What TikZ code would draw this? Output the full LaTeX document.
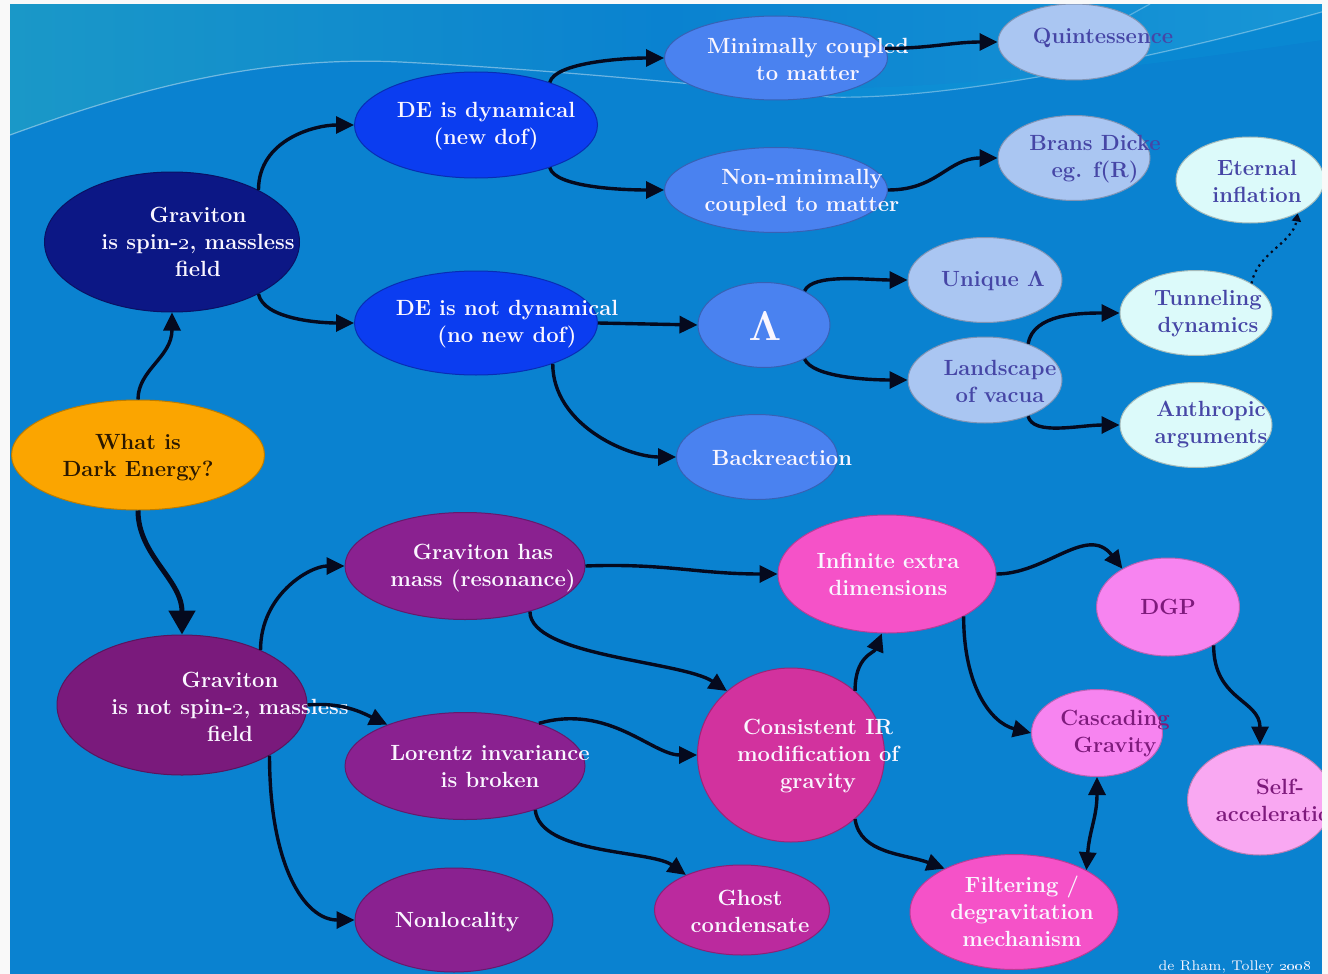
\documentclass[tikz,border=0pt]{standalone}
\usetikzlibrary{shapes.geometric,arrows.meta}
\definecolor{bgblue}{HTML}{0A82D0}
\definecolor{wavea}{HTML}{1A98C8}
\definecolor{waveb}{HTML}{1896D6}
\definecolor{cOrange}{HTML}{FBA500}
\definecolor{cNavy}{HTML}{0C1785}
\definecolor{cDE}{HTML}{0B3DF0}
\definecolor{cMed}{HTML}{4A82F0}
\definecolor{cLight}{HTML}{AAC6F2}
\definecolor{cPale}{HTML}{DCFAFA}
\definecolor{cPurpA}{HTML}{7A1A7C}
\definecolor{cPurpB}{HTML}{8A2190}
\definecolor{cGhost}{HTML}{BB2A9E}
\definecolor{cMag}{HTML}{D2329E}
\definecolor{cPink}{HTML}{F552C8}
\definecolor{cPinkL}{HTML}{F784F0}
\definecolor{cPinkP}{HTML}{F9A8F2}
\definecolor{tWhite}{HTML}{FAF6FF}
\definecolor{tBlue}{HTML}{4646A6}
\definecolor{tPurp}{HTML}{7E1A7C}
\definecolor{tDark}{HTML}{2A1800}
\definecolor{lineC}{HTML}{050A1E}
\tikzset{
  bub/.style n args={3}{ellipse, inner sep=0pt, minimum width={#1*0.5pt},
    minimum height={#2*0.5pt}, fill=#3, draw=#3!75!black, line width=0.5pt},
  txt/.style={align=center, inner sep=0pt,
    font=\fontsize{11}{13.5}\selectfont\bfseries, text=#1},
  arr/.style={-{Triangle[length=9pt,width=8.5pt]}, line width=1.7pt, draw=lineC},
  arrbig/.style={-{Triangle[length=12pt,width=13pt]}, line width=2.5pt, draw=lineC},
  darr/.style={{Triangle[length=9pt,width=8.5pt]}-{Triangle[length=9pt,width=8.5pt]},
    line width=1.7pt, draw=lineC},
  dotarr/.style={-{Triangle[length=4pt,width=4.5pt]}, dotted, line width=1.1pt, draw=lineC}
}
\begin{document}
\begin{tikzpicture}[x=0.5pt,y=-0.5pt]
\useasboundingbox (0,0) rectangle (1328,974);
% background
\fill[white] (0,0) rectangle (1328,974);
\fill[bgblue] (10,4) rectangle (1322,974);
\shade[left color=wavea, right color=waveb, middle color=bgblue]
  (10,4) -- (10,135) .. controls (120,95) and (250,55) .. (400,62)
  .. controls (560,70) and (700,85) .. (830,97)
  .. controls (950,100) and (1150,60) .. (1322,12) -- (1322,4) -- cycle;
\draw[white, opacity=0.4, line width=0.6pt]
  (10,135) .. controls (120,95) and (250,55) .. (400,62)
  .. controls (560,70) and (700,85) .. (830,97)
  .. controls (950,100) and (1150,60) .. (1322,12);
\draw[white, opacity=0.3, line width=0.6pt]
  (1020,70) .. controls (1080,45) and (1120,20) .. (1150,4);
\fill[bgblue!80!cyan, opacity=0.25]
  (660,80) .. controls (800,95) and (950,95) .. (1322,40) -- (1322,12)
  .. controls (1150,60) and (950,100) .. (830,97) .. controls (760,90) and (700,84) .. (660,80) -- cycle;

% ellipses
\node[bub={253}{110}{cOrange}] (wd) at (138,455) {};
\node[bub={255}{140}{cNavy}] (gs) at (172,242) {};
\node[bub={243}{106}{cDE}] (dyn) at (476,125) {};
\node[bub={243}{104}{cDE}] (dnd) at (476,323) {};
\node[bub={223}{84}{cMed}] (mc) at (776,58) {};
\node[bub={223}{85}{cMed}] (nm) at (776,190) {};
\node[bub={152}{76}{cLight}] (q) at (1074,42) {};
\node[bub={152}{85}{cLight}] (bd) at (1074,158) {};
\node[bub={148}{86}{cPale}] (et) at (1250,180) {};
\node[bub={132}{85}{cMed}] (lam) at (764,325) {};
\node[bub={161}{85}{cMed}] (bk) at (757,457) {};
\node[bub={154}{85}{cLight}] (ua) at (985,280) {};
\node[bub={154}{86}{cLight}] (ls) at (985,380) {};
\node[bub={152}{85}{cPale}] (tu) at (1196,313) {};
\node[bub={152}{85}{cPale}] (an) at (1196,425) {};
\node[bub={250}{140}{cPurpA}] (gns) at (182,705) {};
\node[bub={240}{107}{cPurpB}] (gm) at (465,566) {};
\node[bub={240}{107}{cPurpB}] (lor) at (465,766) {};
\node[bub={198}{104}{cPurpB}] (nl) at (454,920) {};
\node[bub={175}{90}{cGhost}] (gh) at (742,910) {};
\node[bub={187}{174}{cMag}] (ci) at (791,755) {};
\node[bub={218}{118}{cPink}] (ie) at (887,574) {};
\node[bub={143}{98}{cPinkL}] (dgp) at (1168,607) {};
\node[bub={131}{87}{cPinkL}] (cg) at (1097,733) {};
\node[bub={145}{110}{cPinkP}] (sa) at (1260,800) {};
\node[bub={208}{115}{cPink}] (fi) at (1014,912) {};

% texts
\node[txt=tDark] (wd-t) at (138,458) {What is\\Dark Energy?};
\node[txt=tWhite] (gs-t) at (198,242) {Graviton\\is spin-\oldstylenums{2}, massless\\field};
\node[txt=tWhite] (dyn-t) at (486,126) {DE is dynamical\\(new dof)};
\node[txt=tWhite] (dnd-t) at (507,324) {DE is not dynamical\\(no new dof)};
\node[txt=tWhite] (mc-t) at (808,59) {Minimally coupled\\to matter};
\node[txt=tWhite] (nm-t) at (802,193) {Non-minimally\\coupled to matter};
\node[txt=tBlue] (q-t) at (1103,38) {Quintessence};
\node[txt=tBlue] (bd-t) at (1095,159) {Brans Dicke\\eg. f(R)};
\node[txt=tBlue] (et-t) at (1257,181) {Eternal\\inflation};
\node[txt=tWhite, font=\fontsize{22}{24}\selectfont] (lam-t) at (765,326) {$\mathbf{\Lambda}$};
\node[txt=tWhite] (bk-t) at (782,458) {Backreaction};
\node[txt=tBlue] (ua-t) at (993,281) {Unique $\mathbf{\Lambda}$};
\node[txt=tBlue] (ls-t) at (1000,381) {Landscape\\of vacua};
\node[txt=tBlue] (tu-t) at (1208,314) {Tunneling\\dynamics};
\node[txt=tBlue] (an-t) at (1211,425) {Anthropic\\arguments};
\node[txt=tWhite] (gns-t) at (230,707) {Graviton\\is not spin-\oldstylenums{2}, massless\\field};
\node[txt=tWhite] (gm-t) at (483,568) {Graviton has\\mass (resonance)};
\node[txt=tWhite] (lor-t) at (490,767) {Lorentz invariance\\is broken};
\node[txt=tWhite] (nl-t) at (457,922) {Nonlocality};
\node[txt=tWhite] (gh-t) at (750,911) {Ghost\\condensate};
\node[txt=tWhite] (ci-t) at (818,756) {Consistent IR\\modification of\\gravity};
\node[txt=tWhite] (ie-t) at (888,574) {Infinite extra\\dimensions};
\node[txt=tPurp] (dgp-t) at (1168,607) {DGP};
\node[txt=tPurp] (cg-t) at (1115,734) {Cascading\\Gravity};
\node[txt=tPurp] (sa-t) at (1280,800) {Self-\\acceleration};
\node[txt=tWhite] (fi-t) at (1022,911) {Filtering /\\degravitation\\mechanism};
\node[anchor=base, inner sep=0pt, text=tWhite, font=\fontsize{7}{8}\selectfont] (cr)
  at (1235,970) {de Rham, Tolley \oldstylenums{2008}};

% connectors
\draw[arr] (wd.north) .. controls +(0,-30) and +(0,45) .. (gs.south);
\draw[arrbig] (wd.south) .. controls +(0,45) and +(0,-55) .. (gns.north);
\draw[arr] (gs.31) .. controls +(0,-50) and +(-40,0) .. (dyn.west);
\draw[arr] (gs.-31) .. controls +(5,25) and +(-35,0) .. (dnd.west);
\draw[arr] (dyn.30) .. controls +(5,-20) and +(-40,0) .. (mc.west);
\draw[arr] (dyn.-30) .. controls +(5,20) and +(-40,0) .. (nm.west);
\draw[arr] (mc.5) .. controls +(45,0) and +(-45,0) .. (q.west);
\draw[arr] (nm.east) .. controls +(50,0) and +(-50,0) .. (bd.west);
\draw[arr] (dnd.east) -- (lam.west);
\draw[arr] (dnd.-28) .. controls +(0,60) and +(-50,0) .. (bk.west);
\draw[arr] (lam.40) .. controls +(8,-18) and +(-40,0) .. (ua.west);
\draw[arr] (lam.-40) .. controls +(8,18) and +(-40,0) .. (ls.west);
\draw[arr] (ls.40) .. controls +(5,-30) and +(-40,0) .. (tu.west);
\draw[arr] (ls.-40) .. controls +(5,20) and +(-40,0) .. (an.west);
\draw[dotarr] (tu.28) .. controls +(5,-30) and +(-5,30) .. (et.-35);
\draw[arr] (gns.35) .. controls +(0,-55) and +(-35,0) .. (gm.west);
\draw[arr] (gns.east) .. controls +(35,-3) and +(-25,-12) .. (lor.152);
\draw[arr] (gns.-30) .. controls +(0,110) and +(-50,0) .. (nl.west);
\draw[arr] (gm.east) .. controls +(80,-3) and +(-80,0) .. (ie.west);
\draw[arr] (gm.-35) .. controls +(0,45) and +(-45,-30) .. (ci.135);
\draw[arr] (lor.30) .. controls +(70,-20) and +(-45,0) .. (ci.west);
\draw[arr] (lor.-32) .. controls +(5,45) and +(-35,-25) .. (gh.148);
\draw[arr] (ci.45) .. controls +(0,-35) and +(-8,20) .. (ie.-95);
\draw[arr] (ci.-45) .. controls +(5,35) and +(-40,-15) .. (fi.148);
\draw[arr] (ie.east) .. controls +(50,0) and +(-35,-45) .. (dgp.140);
\draw[arr] (ie.-29) .. controls +(0,70) and +(-40,-10) .. (cg.west);
\draw[arr] (dgp.-40) .. controls +(0,55) and +(0,-45) .. (sa.north);
\draw[darr] (cg.south) .. controls +(0,40) and +(3,-40) .. (fi.30);

% frame strips
\fill[white!95!gray] (0,0) rectangle (10,974);
\fill[white!95!gray] (0,0) rectangle (1328,4);
\fill[white!95!gray] (1322,0) rectangle (1328,974);
\end{tikzpicture}
\end{document}
